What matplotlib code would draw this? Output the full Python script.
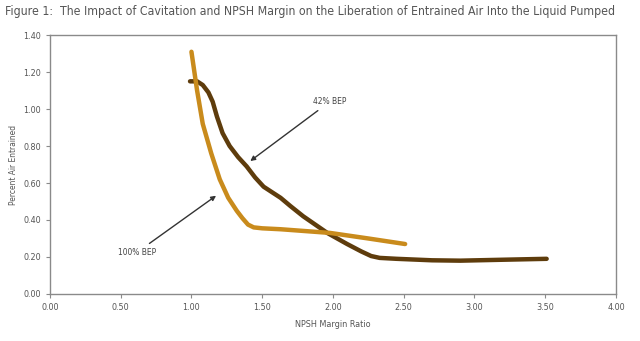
import matplotlib

matplotlib.use("Agg")
import matplotlib.pyplot as plt

# 100% BEP curve
bep100_x = [1.00, 1.04, 1.08, 1.14, 1.20, 1.26, 1.32, 1.36, 1.40, 1.44, 1.50, 1.63, 1.98, 2.25, 2.51]
bep100_y = [1.31, 1.10, 0.92, 0.76, 0.62, 0.52, 0.45, 0.41, 0.375, 0.36, 0.355, 0.35, 0.33, 0.30, 0.27]

# 42% BEP curve
bep42_x = [0.99, 1.04, 1.08, 1.12, 1.15, 1.18, 1.22, 1.27, 1.33, 1.39, 1.45, 1.51, 1.57, 1.63,
           1.70, 1.79, 1.96, 2.10, 2.20, 2.27, 2.33, 2.45, 2.70, 2.90, 3.20, 3.51]
bep42_y = [1.15, 1.15, 1.13, 1.09, 1.04, 0.96, 0.87, 0.80, 0.74, 0.69, 0.63, 0.58, 0.55, 0.52,
           0.475, 0.42, 0.33, 0.27, 0.23, 0.205, 0.195, 0.19, 0.182, 0.18, 0.185, 0.19]

x_ticks = [0.0, 0.5, 1.0, 1.5, 2.0, 2.5, 3.0, 3.5, 4.0]
y_ticks = [0.0, 0.2, 0.4, 0.6, 0.8, 1.0, 1.2, 1.4]

plt.rcParams["font.family"] = ["DejaVu Sans"]
plt.rcParams["font.stretch"] = "condensed"

text_color = "#555555"
spine_color = "#8a8a8a"

fig = plt.figure(figsize=(6.4, 3.41), dpi=100)
ax = fig.add_axes([0.078, 0.138, 0.8845, 0.759])

ax.plot(bep42_x, bep42_y, color="#5e3c0c", lw=3.2, solid_capstyle="round", solid_joinstyle="round")
ax.plot(bep100_x, bep100_y, color="#c98b1c", lw=3.2, solid_capstyle="round", solid_joinstyle="round")

ax.set_xlim(0, 4.0)
ax.set_ylim(0, 1.4)
ax.set_xticks(x_ticks)
ax.set_yticks(y_ticks)
ax.set_xticklabels([f"{v:.2f}" for v in x_ticks])
ax.set_yticklabels([f"{v:.2f}" for v in y_ticks])
ax.tick_params(direction="out", length=3, width=0.8, colors=spine_color,
               labelcolor=text_color, labelsize=6.5)
for s in ax.spines.values():
    s.set_color(spine_color)
    s.set_linewidth(1.0)

ax.set_xlabel("NPSH Margin Ratio", fontsize=6.5, color=text_color, labelpad=6)
ax.set_ylabel("Percent Air Entrained", fontsize=6, color=text_color, labelpad=4)

arrow = dict(arrowstyle="-|>", color="#333333", lw=1.0, mutation_scale=7)
ax.annotate("42% BEP", xy=(1.40, 0.71), xytext=(1.86, 1.04),
            fontsize=6, color="#444444", va="center", ha="left",
            arrowprops=arrow)
ax.annotate("100% BEP", xy=(1.19, 0.54), xytext=(0.75, 0.225),
            fontsize=6, color="#444444", va="center", ha="right",
            arrowprops=arrow)

fig.text(0.008, 0.965, "Figure 1:  The Impact of Cavitation and NPSH Margin on the Liberation of "
         "Entrained Air Into the Liquid Pumped", fontsize=8.8, color=text_color,
         va="center", ha="left")

fig.savefig("out.png", dpi=100)
